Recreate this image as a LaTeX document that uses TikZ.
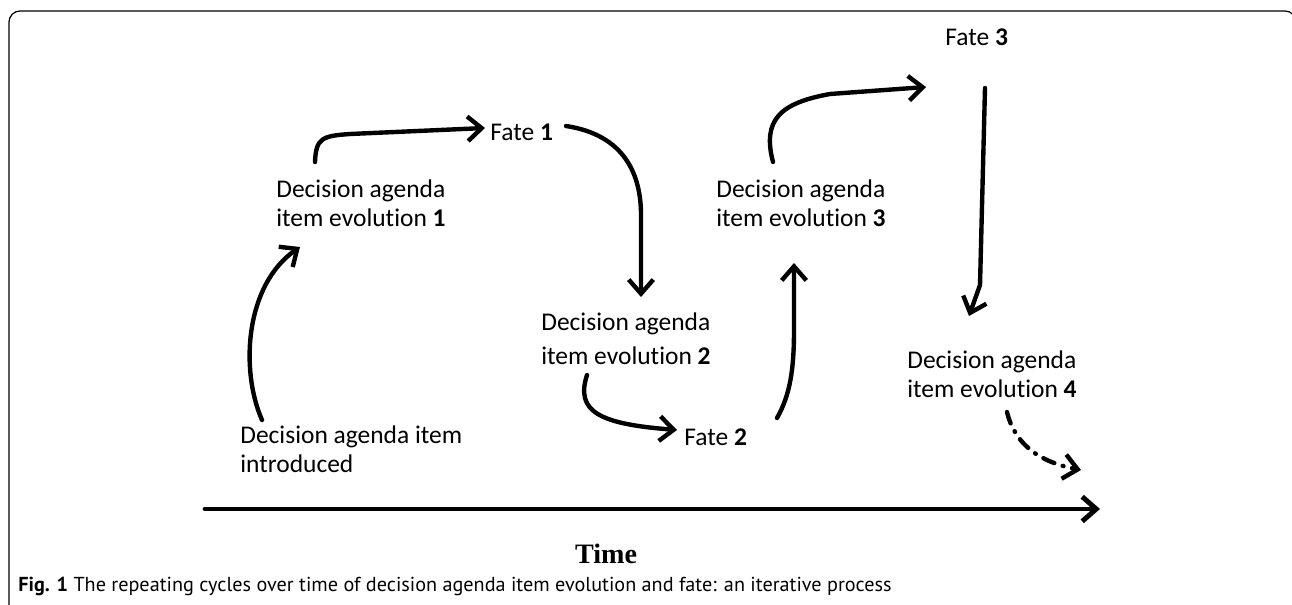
\documentclass[tikz,border=0pt]{standalone}
\usepackage{fontspec}
\setmainfont{Carlito}[Ligatures=NoCommon]
\newfontfamily\timefont{Liberation Serif}
\newfontfamily\capfont{PT Sans}
\usetikzlibrary{arrows.meta,calc}
\tikzset{lbl/.style={inner sep=0pt,align=left,font=\fontsize{14.5}{17}\selectfont}}
\tikzset{fate/.style={inner sep=0pt,font=\fontsize{14.5}{17}\selectfont}}
\tikzset{flow/.style={line width=2.5pt,line cap=round,-{Straight Barb[length=8pt,width=14pt]}}}
\newcommand{\Inum}[1]{\textbf{#1}}

\begin{document}
\begin{tikzpicture}[x=0.02cm,y=-0.02cm]
% \draw[help lines,step=50] (0,0) grid (1292,605);
\clip (0,0) rectangle (1292,605);
\draw[line width=0.7pt,rounded corners=0.22cm] (9,620) -- (9,11) -- (1296,11) -- (1296,620);
%
\node (d0) [lbl,anchor=north west] at (240,425) {Decision agenda item\\introduced};
\node (d1) [lbl,anchor=north west] at (276,179) {Decision agenda\\item evolution \Inum{1}};
\node (f1) [fate,anchor=base west] at (490,140) {Fate \Inum{1}};
\node (d2) [lbl,anchor=north west,font=\fontsize{14.5}{19.5}\selectfont] at (541,312) {Decision agenda\\item evolution \Inum{2}};
\node (f2) [fate,anchor=base west] at (684,445) {Fate \Inum{2}};
\node (d3) [lbl,anchor=north west] at (716,179) {Decision agenda\\item evolution \Inum{3}};
\node (f3) [fate,anchor=base west] at (945,45) {Fate \Inum{3}};
\node (d4) [lbl,anchor=north west] at (907,350) {Decision agenda\\item evolution \Inum{4}};
%
\draw[flow] ($(d0.north west)+(22,-5)$) .. controls (240,370) and (245,285) .. ($(d1.north west)+(24,68)$);
\draw[flow] ($(d1.north west)+(39,-17)$) .. controls (316,138) and (322,136) .. (350,134) -- ($(f1.base west)+(-5,-12)$);
\draw[flow] ($(f1.base west)+(76,-14)$) .. controls (625,135) and (641,175) .. (641,215) -- ($(d2.north west)+(100,-15)$);
\draw[flow] ($(d2.north west)+(46,63)$) .. controls (575,412) and (600,424) .. ($(f2.base west)+(-7,-15)$);
\draw[flow] ($(f2.base west)+(93,-27)$) .. controls (790,395) and (794,370) .. (794,330) -- ($(d3.north west)+(78,84)$);
\draw[flow] ($(d3.north west)+(57,-17)$) .. controls (762,120) and (780,103) .. (830,94) -- ($(f3.base west)+(-19,42)$);
\draw[flow] ($(f3.base west)+(40,43)$) -- (980,285) -- ($(d4.north west)+(62,-34)$);
\draw[flow,dash pattern=on 6.8pt off 5pt on 0.5pt off 5pt] ($(d4.north west)+(100,62)$) .. controls (1015,445) and (1040,462) .. ($(d4.north west)+(174,120)$);
%
\coordinate (t0) at (205,509);
\coordinate (t1) at (1100,509);
\draw[flow,line width=2.8pt] (t0) -- (t1);
\node (time) [inner sep=0pt,anchor=base,font=\timefont\bfseries\fontsize{16}{18}\selectfont] at (606,563) {Time};
\node (cap) [inner sep=0pt,anchor=base west,font=\capfont\fontsize{11.5}{13}\selectfont] at (18,591) {\textbf{Fig. 1} The repeating cycles over time of decision agenda item evolution and fate: an iterative process};
\end{tikzpicture}
\end{document}
